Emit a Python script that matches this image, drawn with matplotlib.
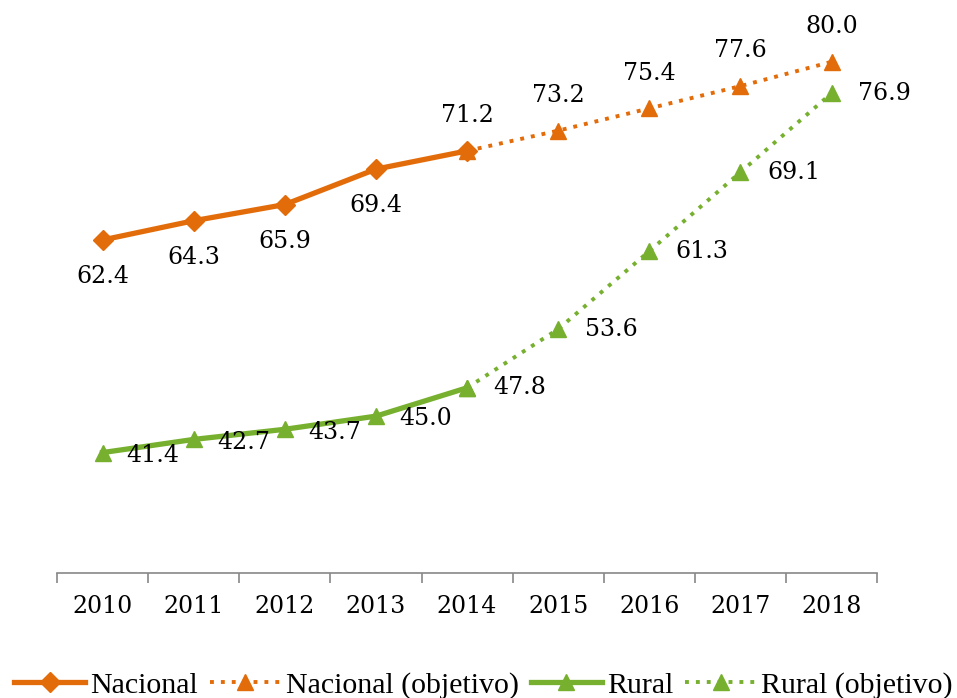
import numpy as np
import matplotlib.pyplot as plt

# datos
anios = ['2010', '2011', '2012', '2013', '2014', '2015', '2016', '2017', '2018']
nacional = [62.4, 64.3, 65.9, 69.4, 71.2]
nacional_obj = [71.2, 73.2, 75.4, 77.6, 80.0]
rural = [41.4, 42.7, 43.7, 45.0, 47.8]
rural_obj = [47.8, 53.6, 61.3, 69.1, 76.9]

naranja = '#E36C0A'
verde = '#77B02F'

x = np.arange(len(anios))
x_real = x[:5]
x_obj = x[4:]

fig = plt.figure(figsize=(9.57, 6.98), dpi=100)
ax = fig.add_axes([0.0596, 0.179, 0.857, 0.805])

ax.plot(x_obj, nacional_obj, color=naranja, lw=2.8, ls=(0, (1, 1.8)), marker='^', ms=11,
        label='Nacional (objetivo)', zorder=2)
ax.plot(x_obj, rural_obj, color=verde, lw=2.8, ls=(0, (1, 1.8)), marker='^', ms=11,
        label='Rural (objetivo)', zorder=2)
ax.plot(x_real, nacional, color=naranja, lw=3.8, marker='D', ms=10, label='Nacional', zorder=3)
ax.plot(x_real, rural, color=verde, lw=3.8, marker='^', ms=12, label='Rural', zorder=3)

fuente = dict(family='DejaVu Serif', fontsize=17)

# etiquetas Nacional
for i, v in enumerate(nacional[:4]):
    ax.annotate(f'{v:.1f}', (x[i], v), xytext=(0, -18), textcoords='offset points',
                ha='center', va='top', **fuente)
for i, v in zip(x_obj, nacional_obj):
    ax.annotate(f'{v:.1f}', (i, v), xytext=(0, 17), textcoords='offset points',
                ha='center', va='bottom', **fuente)

# etiquetas Rural
for i, v in enumerate(rural[:4]):
    ax.annotate(f'{v:.1f}', (x[i], v), xytext=(17, -2), textcoords='offset points',
                ha='left', va='center', **fuente)
for i, v in zip(x_obj, rural_obj):
    ax.annotate(f'{v:.1f}', (i, v), xytext=(19, 0), textcoords='offset points',
                ha='left', va='center', **fuente)

ax.set_xlim(-0.5, len(anios) - 0.5)
ax.set_ylim(29.5, 85)
ax.set_yticks([])
ax.set_xticks(x)
ax.set_xticklabels(anios, **fuente)
ax.set_xticks(np.arange(-0.5, len(anios)), minor=True)
ax.tick_params(axis='x', which='major', length=0, pad=16)
ax.tick_params(axis='x', which='minor', length=7, width=1.2, color='#888888')

for s in ['top', 'right', 'left']:
    ax.spines[s].set_visible(False)
ax.spines['bottom'].set_color('#888888')
ax.spines['bottom'].set_linewidth(1.2)

handles, labels = ax.get_legend_handles_labels()
orden = [2, 0, 3, 1]
fig.legend([handles[i] for i in orden], [labels[i] for i in orden],
           loc='lower center', bbox_to_anchor=(0.505, -0.04), ncol=4, frameon=False,
           prop={'family': 'Liberation Serif', 'size': 21.5}, handlelength=2.4,
           handletextpad=0.15, columnspacing=0.4)

fig.savefig('out.png', dpi=100)
